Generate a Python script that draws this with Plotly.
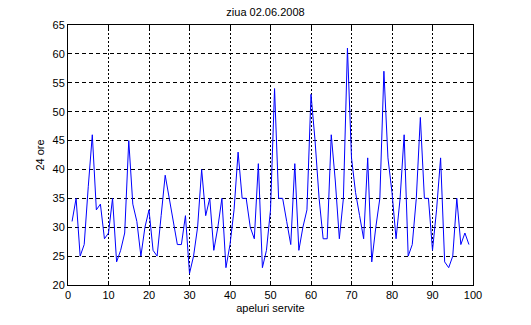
import plotly.graph_objects as go

calls = list(range(1, 100))
hours = [31, 35, 25, 27, 37, 46, 33, 34, 28, 29,
         35, 24, 26, 29, 45, 34, 31, 25, 30, 33,
         26, 25, 32, 39, 35, 31, 27, 27, 32, 22,
         25, 30, 40, 32, 35, 26, 30, 35, 23, 27,
         33, 43, 35, 35, 30, 28, 41, 23, 26, 33,
         54, 35, 35, 31, 27, 41, 26, 30, 33, 53,
         45, 35, 28, 28, 46, 38, 28, 35, 61, 42,
         36, 32, 28, 42, 24, 30, 35, 57, 42, 36,
         28, 35, 46, 25, 27, 35, 49, 35, 35, 26,
         33, 42, 24, 23, 25, 35, 27, 29, 27]

x_ticks = [0, 10, 20, 30, 40, 50, 60, 70, 80, 90, 100]
y_ticks = [20, 25, 30, 35, 40, 45, 50, 55, 60, 65]

font = dict(family="Liberation Sans, Arial", size=11, color="black")

fig = go.Figure(go.Scatter(x=calls, y=hours, mode="lines",
                           line=dict(color="#0000ff", width=1)))

axis_common = dict(
    showline=True, linecolor="black", linewidth=1, mirror="allticks",
    ticks="inside", ticklen=4, tickcolor="black",
    showgrid=True, gridcolor="black", gridwidth=1,
    zeroline=False, tickfont=font,
)

fig.update_xaxes(range=[0, 100], tickvals=x_ticks, griddash="2px,2px",
                 title=dict(text="apeluri servite", standoff=4, font=font),
                 **axis_common)
fig.update_yaxes(range=[20, 65], tickvals=y_ticks, griddash="4px,3px",
                 title=dict(text="24 ore", standoff=5, font=font),
                 **axis_common)

fig.update_layout(
    width=531, height=325,
    margin=dict(l=68, r=58, t=25, b=35),
    paper_bgcolor="white", plot_bgcolor="white",
    showlegend=False,
    title=dict(text="ziua 02.06.2008", x=0.5, xanchor="center", y=0.975, yanchor="top",
               font=font),
)

fig.write_html("out.html")
